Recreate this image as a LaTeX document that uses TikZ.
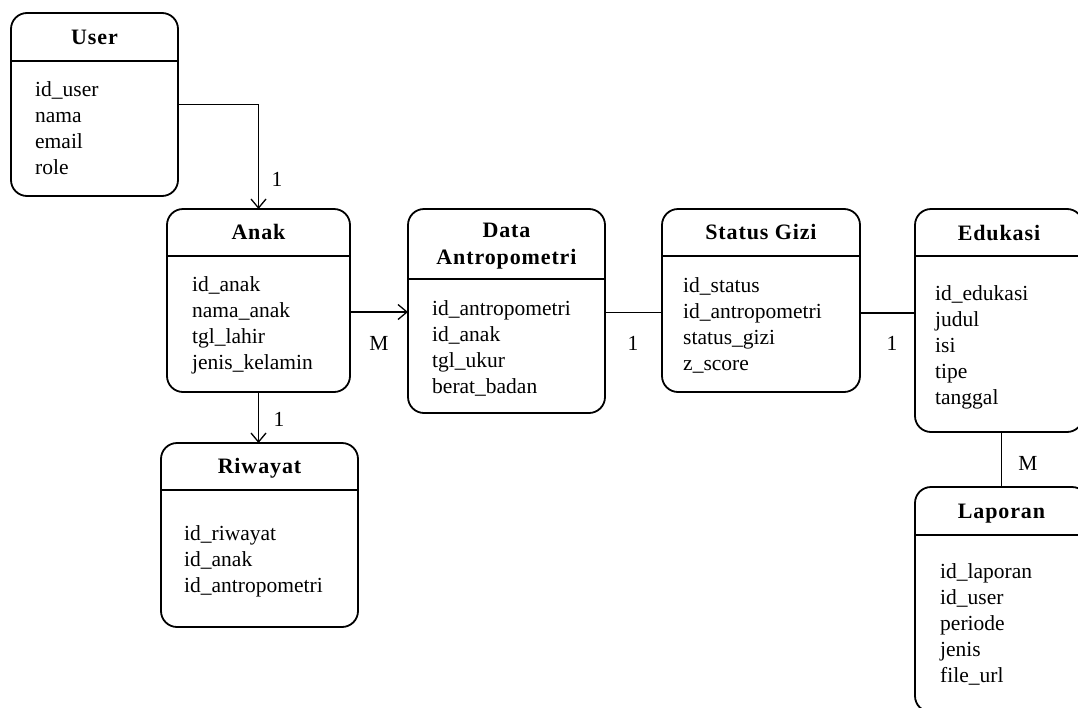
\documentclass[tikz,border=0pt]{standalone}
\usepackage{fontspec}
\setmainfont{Liberation Serif}
\newfontfamily\ttlfont[LetterSpace=4]{Liberation Serif}
\usetikzlibrary{arrows.meta}
\tikzset{
  ent/.style={draw, line width=1.8pt, rounded corners=16pt, anchor=north west, inner sep=0pt, outer sep=0pt},
  divider/.style={line width=1.8pt},
  ttl/.style={anchor=base, inner sep=0pt, font=\ttlfont\bfseries\fontsize{22}{26}\selectfont},
  attr/.style={anchor=base west, inner sep=0pt, font=\fontsize{21.5}{26}\selectfont},
  card/.style={anchor=base, inner sep=0pt, font=\fontsize{21.5}{26}\selectfont},
  conn/.style={line width=1.3pt},
  arr/.style={conn, -{Straight Barb[length=9pt,width=15pt,line width=1.3pt]}}
}
\begin{document}
\begin{tikzpicture}[x=1pt,y=-1pt]
\fill[white] (0,0) rectangle (1078,707);
\useasboundingbox (0,0) rectangle (1078,707);

% ---------- entities ----------
\node[ent, minimum width=167pt, minimum height=183pt] (user) at (11,13) {};
\draw[divider] ([yshift=-48pt]user.north west) -- ([yshift=-48pt]user.north east);
\node[ttl] (user-t) at ([yshift=-31.5pt]user.north) {User};
\foreach \t [count=\i] in {id\_user,nama,email,role}
  \node[attr] (user-\i) at (35,96.5+26*\i-26) {\t};

\node[ent, minimum width=183pt, minimum height=183pt] (anak) at (167,209) {};
\draw[divider] ([yshift=-47pt]anak.north west) -- ([yshift=-47pt]anak.north east);
\node[ttl] (anak-t) at ([yshift=-30pt]anak.north) {Anak};
\foreach \t [count=\i] in {id\_anak,nama\_anak,tgl\_lahir,jenis\_kelamin}
  \node[attr] (anak-\i) at (192,291+26*\i-26) {\t};

\node[ent, minimum width=197pt, minimum height=204pt] (data) at (408,209) {};
\draw[divider] ([yshift=-70pt]data.north west) -- ([yshift=-70pt]data.north east);
\node[ttl] (data-t1) at ([yshift=-28pt]data.north) {Data};
\node[ttl] (data-t2) at ([yshift=-55pt]data.north) {Antropometri};
\foreach \t [count=\i] in {id\_antropometri,id\_anak,tgl\_ukur,berat\_badan}
  \node[attr] (data-\i) at (432,315+26*\i-26) {\t};

\node[ent, minimum width=198pt, minimum height=183pt] (status) at (662,209) {};
\draw[divider] ([yshift=-47pt]status.north west) -- ([yshift=-47pt]status.north east);
\node[ttl] (status-t) at ([yshift=-30pt]status.north) {Status Gizi};
\foreach \t [count=\i] in {id\_status,id\_antropometri,status\_gizi,z\_score}
  \node[attr] (status-\i) at (683,292+26*\i-26) {\t};

\node[ent, minimum width=168pt, minimum height=223pt] (edukasi) at (915,209) {};
\draw[divider] ([yshift=-47pt]edukasi.north west) -- ([yshift=-47pt]edukasi.north east);
\node[ttl] (edukasi-t) at ([yshift=-31pt]edukasi.north) {Edukasi};
\foreach \t [count=\i] in {id\_edukasi,judul,isi,tipe,tanggal}
  \node[attr] (edukasi-\i) at (935,300+26*\i-26) {\t};

\node[ent, minimum width=173pt, minimum height=225pt] (laporan) at (915,487) {};
\draw[divider] ([yshift=-48pt]laporan.north west) -- ([yshift=-48pt]laporan.north east);
\node[ttl] (laporan-t) at ([yshift=-31pt]laporan.north) {Laporan};
\foreach \t [count=\i] in {id\_laporan,id\_user,periode,jenis,file\_url}
  \node[attr] (laporan-\i) at (940,578+26*\i-26) {\t};

\node[ent, minimum width=197pt, minimum height=184pt] (riwayat) at (161,443) {};
\draw[divider] ([yshift=-47pt]riwayat.north west) -- ([yshift=-47pt]riwayat.north east);
\node[ttl] (riwayat-t) at ([yshift=-30pt]riwayat.north) {Riwayat};
\foreach \t [count=\i] in {id\_riwayat,id\_anak,id\_antropometri}
  \node[attr] (riwayat-\i) at (184,540+26*\i-26) {\t};

% ---------- connectors ----------
\draw[arr] (user.east) -| (anak.north);
\draw[arr] ([yshift=-11.5pt]anak.east) -- ([yshift=-11.5pt]anak.east -| data.west);
\draw[conn] ([yshift=-1.5pt]data.east) -- ([yshift=-1.5pt]data.east -| status.west);
\draw[conn] ([yshift=-12.5pt]status.east) -- ([yshift=-12.5pt]status.east -| edukasi.west);
\draw[arr] (anak.south) -- (anak.south |- riwayat.north);
\draw[conn] (laporan.north |- edukasi.south) -- (laporan.north);

% ---------- cardinalities ----------
\node[card] (c1) at (277,186) {1};
\node[card] (c2) at (379,350) {M};
\node[card] (c3) at (633,350) {1};
\node[card] (c4) at (892,350) {1};
\node[card] (c5) at (279,426) {1};
\node[card] (c6) at (1028,470) {M};
\end{tikzpicture}
\end{document}
